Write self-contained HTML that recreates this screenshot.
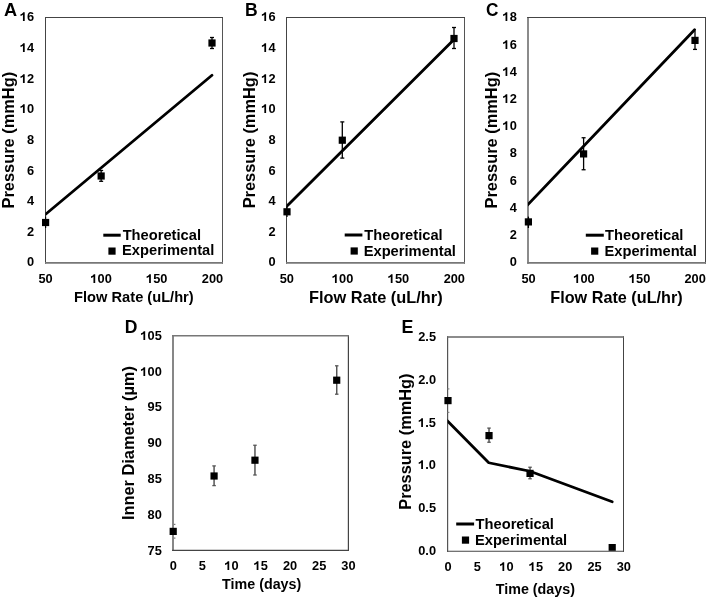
<!DOCTYPE html>
<html><head><meta charset="utf-8"><title>Figure</title>
<style>html,body{margin:0;padding:0;background:#fff;}svg{display:block;filter:grayscale(1);}text{font-family:"Liberation Sans", sans-serif;font-weight:bold;fill:#000;}</style>
</head><body>
<svg width="708" height="600" viewBox="0 0 708 600">
<rect width="708" height="600" fill="#fff"/>
<defs><clipPath id="c0"><rect x="45.5" y="17.5" width="177.0" height="245.39999999999998"/></clipPath><clipPath id="c1"><rect x="286.5" y="17.5" width="178.0" height="245.39999999999998"/></clipPath><clipPath id="c2"><rect x="528" y="17.5" width="177.5" height="245.39999999999998"/></clipPath><clipPath id="c3"><rect x="447.6" y="337" width="175.89999999999998" height="214.29999999999995"/></clipPath></defs>
<line x1="45.50" y1="17.00" x2="45.50" y2="263.70" stroke="#444" stroke-width="1" stroke-linecap="butt"/>
<line x1="222.50" y1="17.00" x2="222.50" y2="263.70" stroke="#555" stroke-width="1" stroke-linecap="butt"/>
<line x1="45.00" y1="17.50" x2="223.00" y2="17.50" stroke="#444" stroke-width="1" stroke-linecap="butt"/>
<line x1="45.00" y1="262.90" x2="223.00" y2="262.90" stroke="#777" stroke-width="1.6" stroke-linecap="butt"/>
<text x="3.95" y="15.60" font-size="17.5" textLength="13.13" lengthAdjust="spacingAndGlyphs">A</text>
<text x="27.08" y="266.40" font-size="12.8">0</text>
<text x="27.08" y="235.78" font-size="12.8">2</text>
<text x="27.08" y="205.16" font-size="12.8">4</text>
<text x="27.08" y="174.54" font-size="12.8">6</text>
<text x="27.08" y="143.92" font-size="12.8">8</text>
<path d="M759 0L478 0L478 1010C380 920 250 855 85 815L85 1065C200 1100 320 1165 400 1240C460 1300 500 1355 520 1409L759 1409Z" transform="translate(19.96 113) scale(0.00625 -0.00625)"/>
<text x="27.08" y="113.30" font-size="12.8">0</text>
<path d="M759 0L478 0L478 1010C380 920 250 855 85 815L85 1065C200 1100 320 1165 400 1240C460 1300 500 1355 520 1409L759 1409Z" transform="translate(19.96 83) scale(0.00625 -0.00625)"/>
<text x="27.08" y="82.68" font-size="12.8">2</text>
<path d="M759 0L478 0L478 1010C380 920 250 855 85 815L85 1065C200 1100 320 1165 400 1240C460 1300 500 1355 520 1409L759 1409Z" transform="translate(19.96 52) scale(0.00625 -0.00625)"/>
<text x="27.08" y="52.06" font-size="12.8">4</text>
<path d="M759 0L478 0L478 1010C380 920 250 855 85 815L85 1065C200 1100 320 1165 400 1240C460 1300 500 1355 520 1409L759 1409Z" transform="translate(19.96 21) scale(0.00625 -0.00625)"/>
<text x="27.08" y="21.44" font-size="12.8">6</text>
<text x="38.38" y="282.90" font-size="12.8">50</text>
<path d="M759 0L478 0L478 1010C380 920 250 855 85 815L85 1065C200 1100 320 1165 400 1240C460 1300 500 1355 520 1409L759 1409Z" transform="translate(90.47 283) scale(0.00625 -0.00625)"/>
<text x="97.59" y="282.90" font-size="12.8">00</text>
<path d="M759 0L478 0L478 1010C380 920 250 855 85 815L85 1065C200 1100 320 1165 400 1240C460 1300 500 1355 520 1409L759 1409Z" transform="translate(146.12 283) scale(0.00625 -0.00625)"/>
<text x="153.24" y="282.90" font-size="12.8">50</text>
<text x="201.77" y="282.90" font-size="12.8">200</text>
<text x="74.12" y="301.90" font-size="14.8" textLength="119.60" lengthAdjust="spacingAndGlyphs">Flow Rate (uL/hr)</text>
<text x="14.00" y="208.52" font-size="15.9" textLength="136.70" lengthAdjust="spacingAndGlyphs" transform="rotate(-90 14.00 208.52)">Pressure (mmHg)</text>
<polyline points="44.00,215.55 212.00,75.30" fill="none" stroke="#000" stroke-width="2.8" stroke-linejoin="round" stroke-linecap="round" clip-path="url(#c0)"/>
<line x1="45.60" y1="216.50" x2="45.60" y2="228.00" stroke="#000" stroke-width="1.2" stroke-linecap="butt"/>
<rect x="42.00" y="218.90" width="7.20" height="7.20" fill="#000"/>
<line x1="101.15" y1="170.50" x2="101.15" y2="181.30" stroke="#000" stroke-width="1.3" stroke-linecap="butt"/>
<line x1="99.15" y1="170.50" x2="103.15" y2="170.50" stroke="#000" stroke-width="1.3" stroke-linecap="butt"/>
<line x1="99.15" y1="181.30" x2="103.15" y2="181.30" stroke="#000" stroke-width="1.3" stroke-linecap="butt"/>
<rect x="97.55" y="172.40" width="7.20" height="7.20" fill="#000"/>
<line x1="212.00" y1="37.50" x2="212.00" y2="48.50" stroke="#000" stroke-width="1.3" stroke-linecap="butt"/>
<line x1="210.00" y1="37.50" x2="214.00" y2="37.50" stroke="#000" stroke-width="1.3" stroke-linecap="butt"/>
<line x1="210.00" y1="48.50" x2="214.00" y2="48.50" stroke="#000" stroke-width="1.3" stroke-linecap="butt"/>
<rect x="208.40" y="39.40" width="7.20" height="7.20" fill="#000"/>
<line x1="103.30" y1="235.20" x2="120.70" y2="235.20" stroke="#000" stroke-width="3" stroke-linecap="butt"/>
<text x="122.65" y="239.70" font-size="14.7" text-anchor="start">Theoretical</text>
<rect x="108.40" y="247.50" width="7.20" height="7.20" fill="#000"/>
<text x="122.05" y="255.40" font-size="14.7" text-anchor="start">Experimental</text>
<line x1="286.50" y1="17.00" x2="286.50" y2="263.70" stroke="#444" stroke-width="1" stroke-linecap="butt"/>
<line x1="464.50" y1="17.00" x2="464.50" y2="263.70" stroke="#555" stroke-width="1" stroke-linecap="butt"/>
<line x1="286.00" y1="17.50" x2="465.00" y2="17.50" stroke="#444" stroke-width="1" stroke-linecap="butt"/>
<line x1="286.00" y1="262.90" x2="465.00" y2="262.90" stroke="#777" stroke-width="1.6" stroke-linecap="butt"/>
<text x="245.02" y="15.60" font-size="17.5" textLength="12.67" lengthAdjust="spacingAndGlyphs">B</text>
<text x="268.48" y="266.40" font-size="12.8">0</text>
<text x="268.48" y="235.78" font-size="12.8">2</text>
<text x="268.48" y="205.16" font-size="12.8">4</text>
<text x="268.48" y="174.54" font-size="12.8">6</text>
<text x="268.48" y="143.92" font-size="12.8">8</text>
<path d="M759 0L478 0L478 1010C380 920 250 855 85 815L85 1065C200 1100 320 1165 400 1240C460 1300 500 1355 520 1409L759 1409Z" transform="translate(261.36 113) scale(0.00625 -0.00625)"/>
<text x="268.48" y="113.30" font-size="12.8">0</text>
<path d="M759 0L478 0L478 1010C380 920 250 855 85 815L85 1065C200 1100 320 1165 400 1240C460 1300 500 1355 520 1409L759 1409Z" transform="translate(261.36 83) scale(0.00625 -0.00625)"/>
<text x="268.48" y="82.68" font-size="12.8">2</text>
<path d="M759 0L478 0L478 1010C380 920 250 855 85 815L85 1065C200 1100 320 1165 400 1240C460 1300 500 1355 520 1409L759 1409Z" transform="translate(261.36 52) scale(0.00625 -0.00625)"/>
<text x="268.48" y="52.06" font-size="12.8">4</text>
<path d="M759 0L478 0L478 1010C380 920 250 855 85 815L85 1065C200 1100 320 1165 400 1240C460 1300 500 1355 520 1409L759 1409Z" transform="translate(261.36 21) scale(0.00625 -0.00625)"/>
<text x="268.48" y="21.44" font-size="12.8">6</text>
<text x="279.68" y="282.90" font-size="12.8">50</text>
<path d="M759 0L478 0L478 1010C380 920 250 855 85 815L85 1065C200 1100 320 1165 400 1240C460 1300 500 1355 520 1409L759 1409Z" transform="translate(331.96 283) scale(0.00625 -0.00625)"/>
<text x="339.08" y="282.90" font-size="12.8">00</text>
<path d="M759 0L478 0L478 1010C380 920 250 855 85 815L85 1065C200 1100 320 1165 400 1240C460 1300 500 1355 520 1409L759 1409Z" transform="translate(387.79 283) scale(0.00625 -0.00625)"/>
<text x="394.91" y="282.90" font-size="12.8">50</text>
<text x="443.63" y="282.90" font-size="12.8">200</text>
<text x="309.05" y="303.00" font-size="16.1" textLength="133.60" lengthAdjust="spacingAndGlyphs">Flow Rate (uL/hr)</text>
<text x="255.50" y="208.35" font-size="15.9" textLength="136.70" lengthAdjust="spacingAndGlyphs" transform="rotate(-90 255.50 208.35)">Pressure (mmHg)</text>
<polyline points="285.00,208.00 454.00,39.50" fill="none" stroke="#000" stroke-width="2.8" stroke-linejoin="round" stroke-linecap="round" clip-path="url(#c1)"/>
<line x1="287.00" y1="206.50" x2="287.00" y2="217.00" stroke="#000" stroke-width="1.2" stroke-linecap="butt"/>
<rect x="283.40" y="208.20" width="7.20" height="7.20" fill="#000"/>
<line x1="342.30" y1="121.90" x2="342.30" y2="158.10" stroke="#000" stroke-width="1.3" stroke-linecap="butt"/>
<line x1="340.30" y1="121.90" x2="344.30" y2="121.90" stroke="#000" stroke-width="1.3" stroke-linecap="butt"/>
<line x1="340.30" y1="158.10" x2="344.30" y2="158.10" stroke="#000" stroke-width="1.3" stroke-linecap="butt"/>
<rect x="338.70" y="136.60" width="7.20" height="7.20" fill="#000"/>
<line x1="454.00" y1="27.50" x2="454.00" y2="48.50" stroke="#000" stroke-width="1.3" stroke-linecap="butt"/>
<line x1="452.00" y1="27.50" x2="456.00" y2="27.50" stroke="#000" stroke-width="1.3" stroke-linecap="butt"/>
<line x1="452.00" y1="48.50" x2="456.00" y2="48.50" stroke="#000" stroke-width="1.3" stroke-linecap="butt"/>
<rect x="450.40" y="34.90" width="7.20" height="7.20" fill="#000"/>
<line x1="344.70" y1="235.00" x2="362.40" y2="235.00" stroke="#000" stroke-width="3" stroke-linecap="butt"/>
<text x="364.30" y="239.70" font-size="14.7" text-anchor="start">Theoretical</text>
<rect x="350.60" y="247.40" width="7.20" height="7.20" fill="#000"/>
<text x="363.70" y="255.50" font-size="14.7" text-anchor="start">Experimental</text>
<line x1="528.00" y1="17.00" x2="528.00" y2="263.70" stroke="#777" stroke-width="1.7" stroke-linecap="butt"/>
<line x1="705.50" y1="17.00" x2="705.50" y2="263.70" stroke="#444" stroke-width="1" stroke-linecap="butt"/>
<line x1="527.15" y1="17.50" x2="706.00" y2="17.50" stroke="#444" stroke-width="1" stroke-linecap="butt"/>
<line x1="527.15" y1="262.90" x2="706.00" y2="262.90" stroke="#777" stroke-width="1.6" stroke-linecap="butt"/>
<text x="486.01" y="15.60" font-size="17.5" textLength="12.44" lengthAdjust="spacingAndGlyphs">C</text>
<text x="509.68" y="266.20" font-size="12.8">0</text>
<text x="509.68" y="239.00" font-size="12.8">2</text>
<text x="509.68" y="211.80" font-size="12.8">4</text>
<text x="509.68" y="184.60" font-size="12.8">6</text>
<text x="509.68" y="157.40" font-size="12.8">8</text>
<path d="M759 0L478 0L478 1010C380 920 250 855 85 815L85 1065C200 1100 320 1165 400 1240C460 1300 500 1355 520 1409L759 1409Z" transform="translate(502.56 130) scale(0.00625 -0.00625)"/>
<text x="509.68" y="130.20" font-size="12.8">0</text>
<path d="M759 0L478 0L478 1010C380 920 250 855 85 815L85 1065C200 1100 320 1165 400 1240C460 1300 500 1355 520 1409L759 1409Z" transform="translate(502.56 103) scale(0.00625 -0.00625)"/>
<text x="509.68" y="103.00" font-size="12.8">2</text>
<path d="M759 0L478 0L478 1010C380 920 250 855 85 815L85 1065C200 1100 320 1165 400 1240C460 1300 500 1355 520 1409L759 1409Z" transform="translate(502.56 76) scale(0.00625 -0.00625)"/>
<text x="509.68" y="75.80" font-size="12.8">4</text>
<path d="M759 0L478 0L478 1010C380 920 250 855 85 815L85 1065C200 1100 320 1165 400 1240C460 1300 500 1355 520 1409L759 1409Z" transform="translate(502.56 49) scale(0.00625 -0.00625)"/>
<text x="509.68" y="48.60" font-size="12.8">6</text>
<path d="M759 0L478 0L478 1010C380 920 250 855 85 815L85 1065C200 1100 320 1165 400 1240C460 1300 500 1355 520 1409L759 1409Z" transform="translate(502.56 21) scale(0.00625 -0.00625)"/>
<text x="509.68" y="21.40" font-size="12.8">8</text>
<text x="521.38" y="282.90" font-size="12.8">50</text>
<path d="M759 0L478 0L478 1010C380 920 250 855 85 815L85 1065C200 1100 320 1165 400 1240C460 1300 500 1355 520 1409L759 1409Z" transform="translate(573.37 283) scale(0.00625 -0.00625)"/>
<text x="580.49" y="282.90" font-size="12.8">00</text>
<path d="M759 0L478 0L478 1010C380 920 250 855 85 815L85 1065C200 1100 320 1165 400 1240C460 1300 500 1355 520 1409L759 1409Z" transform="translate(628.92 283) scale(0.00625 -0.00625)"/>
<text x="636.04" y="282.90" font-size="12.8">50</text>
<text x="684.47" y="282.90" font-size="12.8">200</text>
<text x="550.27" y="303.00" font-size="16.1" textLength="132.38" lengthAdjust="spacingAndGlyphs">Flow Rate (uL/hr)</text>
<text x="496.70" y="208.50" font-size="15.9" textLength="136.70" lengthAdjust="spacingAndGlyphs" transform="rotate(-90 496.70 208.50)">Pressure (mmHg)</text>
<polyline points="526.50,206.00 694.60,29.75" fill="none" stroke="#000" stroke-width="2.8" stroke-linejoin="round" stroke-linecap="round" clip-path="url(#c2)"/>
<line x1="528.40" y1="216.60" x2="528.40" y2="228.00" stroke="#000" stroke-width="1.3" stroke-linecap="butt"/>
<rect x="524.80" y="218.30" width="7.20" height="7.20" fill="#000"/>
<line x1="583.60" y1="137.75" x2="583.60" y2="169.75" stroke="#000" stroke-width="1.3" stroke-linecap="butt"/>
<line x1="581.60" y1="137.75" x2="585.60" y2="137.75" stroke="#000" stroke-width="1.3" stroke-linecap="butt"/>
<line x1="581.60" y1="169.75" x2="585.60" y2="169.75" stroke="#000" stroke-width="1.3" stroke-linecap="butt"/>
<rect x="580.00" y="150.30" width="7.20" height="7.20" fill="#000"/>
<line x1="695.00" y1="31.00" x2="695.00" y2="49.40" stroke="#000" stroke-width="1.3" stroke-linecap="butt"/>
<line x1="693.00" y1="49.40" x2="697.00" y2="49.40" stroke="#000" stroke-width="1.3" stroke-linecap="butt"/>
<rect x="691.40" y="36.80" width="7.20" height="7.20" fill="#000"/>
<line x1="585.80" y1="235.20" x2="603.80" y2="235.20" stroke="#000" stroke-width="3" stroke-linecap="butt"/>
<text x="605.10" y="239.70" font-size="14.7" text-anchor="start">Theoretical</text>
<rect x="591.10" y="247.50" width="7.20" height="7.20" fill="#000"/>
<text x="604.50" y="255.50" font-size="14.7" text-anchor="start">Experimental</text>
<line x1="173.00" y1="334.90" x2="173.00" y2="551.00" stroke="#7a7a7a" stroke-width="1.8" stroke-linecap="butt"/>
<line x1="348.40" y1="334.90" x2="348.40" y2="551.00" stroke="#444" stroke-width="1.2" stroke-linecap="butt"/>
<line x1="172.10" y1="335.70" x2="349.00" y2="335.70" stroke="#777" stroke-width="1.6" stroke-linecap="butt"/>
<line x1="172.10" y1="550.40" x2="349.00" y2="550.40" stroke="#444" stroke-width="1.2" stroke-linecap="butt"/>
<text x="124.67" y="333.20" font-size="17.5" textLength="12.67" lengthAdjust="spacingAndGlyphs">D</text>
<text x="147.56" y="554.60" font-size="12.8">75</text>
<text x="147.56" y="518.80" font-size="12.8">80</text>
<text x="147.56" y="483.00" font-size="12.8">85</text>
<text x="147.56" y="447.20" font-size="12.8">90</text>
<text x="147.56" y="411.40" font-size="12.8">95</text>
<path d="M759 0L478 0L478 1010C380 920 250 855 85 815L85 1065C200 1100 320 1165 400 1240C460 1300 500 1355 520 1409L759 1409Z" transform="translate(140.44 376) scale(0.00625 -0.00625)"/>
<text x="147.56" y="375.60" font-size="12.8">00</text>
<path d="M759 0L478 0L478 1010C380 920 250 855 85 815L85 1065C200 1100 320 1165 400 1240C460 1300 500 1355 520 1409L759 1409Z" transform="translate(140.44 340) scale(0.00625 -0.00625)"/>
<text x="147.56" y="339.80" font-size="12.8">05</text>
<text x="169.64" y="569.80" font-size="12.8">0</text>
<text x="198.84" y="569.80" font-size="12.8">5</text>
<path d="M759 0L478 0L478 1010C380 920 250 855 85 815L85 1065C200 1100 320 1165 400 1240C460 1300 500 1355 520 1409L759 1409Z" transform="translate(224.48 570) scale(0.00625 -0.00625)"/>
<text x="231.60" y="569.80" font-size="12.8">0</text>
<path d="M759 0L478 0L478 1010C380 920 250 855 85 815L85 1065C200 1100 320 1165 400 1240C460 1300 500 1355 520 1409L759 1409Z" transform="translate(253.68 570) scale(0.00625 -0.00625)"/>
<text x="260.80" y="569.80" font-size="12.8">5</text>
<text x="282.88" y="569.80" font-size="12.8">20</text>
<text x="312.08" y="569.80" font-size="12.8">25</text>
<text x="341.28" y="569.80" font-size="12.8">30</text>
<text x="222.11" y="588.80" font-size="14.3" textLength="79.14" lengthAdjust="spacingAndGlyphs">Time (days)</text>
<text x="133.70" y="520.04" font-size="15.9" textLength="153.89" lengthAdjust="spacingAndGlyphs" transform="rotate(-90 133.70 520.04)">Inner Diameter (µm)</text>
<line x1="173.90" y1="524.40" x2="175.40" y2="524.40" stroke="#777" stroke-width="1.2" stroke-linecap="butt"/>
<line x1="173.90" y1="538.10" x2="175.40" y2="538.10" stroke="#777" stroke-width="1.2" stroke-linecap="butt"/>
<rect x="169.60" y="527.80" width="7.20" height="7.20" fill="#000"/>
<line x1="214.08" y1="465.90" x2="214.08" y2="485.60" stroke="#555" stroke-width="1.5" stroke-linecap="butt"/>
<line x1="212.33" y1="465.90" x2="215.83" y2="465.90" stroke="#555" stroke-width="1.3" stroke-linecap="butt"/>
<line x1="212.33" y1="485.60" x2="215.83" y2="485.60" stroke="#555" stroke-width="1.3" stroke-linecap="butt"/>
<rect x="210.48" y="472.40" width="7.20" height="7.20" fill="#000"/>
<line x1="254.96" y1="445.25" x2="254.96" y2="475.00" stroke="#555" stroke-width="1.5" stroke-linecap="butt"/>
<line x1="253.21" y1="445.25" x2="256.71" y2="445.25" stroke="#555" stroke-width="1.3" stroke-linecap="butt"/>
<line x1="253.21" y1="475.00" x2="256.71" y2="475.00" stroke="#555" stroke-width="1.3" stroke-linecap="butt"/>
<rect x="251.36" y="456.60" width="7.20" height="7.20" fill="#000"/>
<line x1="336.72" y1="365.80" x2="336.72" y2="394.20" stroke="#555" stroke-width="1.5" stroke-linecap="butt"/>
<line x1="334.97" y1="365.80" x2="338.47" y2="365.80" stroke="#555" stroke-width="1.3" stroke-linecap="butt"/>
<line x1="334.97" y1="394.20" x2="338.47" y2="394.20" stroke="#555" stroke-width="1.3" stroke-linecap="butt"/>
<rect x="333.12" y="376.60" width="7.20" height="7.20" fill="#000"/>
<line x1="447.60" y1="336.30" x2="447.60" y2="551.85" stroke="#555" stroke-width="1.2" stroke-linecap="butt"/>
<line x1="623.50" y1="336.30" x2="623.50" y2="551.85" stroke="#444" stroke-width="1" stroke-linecap="butt"/>
<line x1="447.00" y1="337.00" x2="624.00" y2="337.00" stroke="#666" stroke-width="1.4" stroke-linecap="butt"/>
<line x1="447.00" y1="551.30" x2="624.00" y2="551.30" stroke="#444" stroke-width="1.1" stroke-linecap="butt"/>
<text x="401.55" y="333.30" font-size="17.5" textLength="11.91" lengthAdjust="spacingAndGlyphs">E</text>
<text x="418.21" y="555.20" font-size="12.8">0.0</text>
<text x="418.21" y="512.34" font-size="12.8">0.5</text>
<path d="M759 0L478 0L478 1010C380 920 250 855 85 815L85 1065C200 1100 320 1165 400 1240C460 1300 500 1355 520 1409L759 1409Z" transform="translate(418.21 469) scale(0.00625 -0.00625)"/>
<text x="425.32" y="469.48" font-size="12.8">.0</text>
<path d="M759 0L478 0L478 1010C380 920 250 855 85 815L85 1065C200 1100 320 1165 400 1240C460 1300 500 1355 520 1409L759 1409Z" transform="translate(418.21 427) scale(0.00625 -0.00625)"/>
<text x="425.32" y="426.62" font-size="12.8">.5</text>
<text x="418.21" y="383.76" font-size="12.8">2.0</text>
<text x="418.21" y="340.90" font-size="12.8">2.5</text>
<text x="444.44" y="570.90" font-size="12.8">0</text>
<text x="473.74" y="570.90" font-size="12.8">5</text>
<path d="M759 0L478 0L478 1010C380 920 250 855 85 815L85 1065C200 1100 320 1165 400 1240C460 1300 500 1355 520 1409L759 1409Z" transform="translate(499.48 571) scale(0.00625 -0.00625)"/>
<text x="506.60" y="570.90" font-size="12.8">0</text>
<path d="M759 0L478 0L478 1010C380 920 250 855 85 815L85 1065C200 1100 320 1165 400 1240C460 1300 500 1355 520 1409L759 1409Z" transform="translate(528.78 571) scale(0.00625 -0.00625)"/>
<text x="535.90" y="570.90" font-size="12.8">5</text>
<text x="558.08" y="570.90" font-size="12.8">20</text>
<text x="587.38" y="570.90" font-size="12.8">25</text>
<text x="616.68" y="570.90" font-size="12.8">30</text>
<text x="495.81" y="593.80" font-size="14.3" textLength="79.14" lengthAdjust="spacingAndGlyphs">Time (days)</text>
<text x="411.10" y="509.74" font-size="15.9" textLength="136.19" lengthAdjust="spacingAndGlyphs" transform="rotate(-90 411.10 509.74)">Pressure (mmHg)</text>
<polyline points="446.00,419.60 488.75,462.75 530.00,471.25 612.20,501.80" fill="none" stroke="#000" stroke-width="2.8" stroke-linejoin="round" stroke-linecap="round" clip-path="url(#c3)"/>
<line x1="447.60" y1="388.90" x2="449.40" y2="388.90" stroke="#888" stroke-width="1.2" stroke-linecap="butt"/>
<line x1="447.60" y1="412.40" x2="449.40" y2="412.40" stroke="#888" stroke-width="1.2" stroke-linecap="butt"/>
<rect x="444.40" y="397.00" width="7.20" height="7.20" fill="#000"/>
<line x1="489.02" y1="428.10" x2="489.02" y2="442.25" stroke="#555" stroke-width="1.5" stroke-linecap="butt"/>
<line x1="487.27" y1="428.10" x2="490.77" y2="428.10" stroke="#555" stroke-width="1.3" stroke-linecap="butt"/>
<line x1="487.27" y1="442.25" x2="490.77" y2="442.25" stroke="#555" stroke-width="1.3" stroke-linecap="butt"/>
<rect x="485.42" y="432.00" width="7.20" height="7.20" fill="#000"/>
<line x1="530.04" y1="467.25" x2="530.04" y2="478.75" stroke="#555" stroke-width="1.5" stroke-linecap="butt"/>
<line x1="528.29" y1="467.25" x2="531.79" y2="467.25" stroke="#555" stroke-width="1.3" stroke-linecap="butt"/>
<line x1="528.29" y1="478.75" x2="531.79" y2="478.75" stroke="#555" stroke-width="1.3" stroke-linecap="butt"/>
<rect x="526.44" y="469.80" width="7.20" height="7.20" fill="#000"/>
<rect x="608.60" y="544.00" width="7.20" height="6.80" fill="#000"/>
<line x1="456.20" y1="524.00" x2="474.10" y2="524.00" stroke="#000" stroke-width="3" stroke-linecap="butt"/>
<text x="475.55" y="528.60" font-size="14.7" text-anchor="start">Theoretical</text>
<rect x="461.90" y="536.50" width="7.20" height="7.20" fill="#000"/>
<text x="474.95" y="544.80" font-size="14.7" text-anchor="start">Experimental</text>
</svg>
</body></html>
